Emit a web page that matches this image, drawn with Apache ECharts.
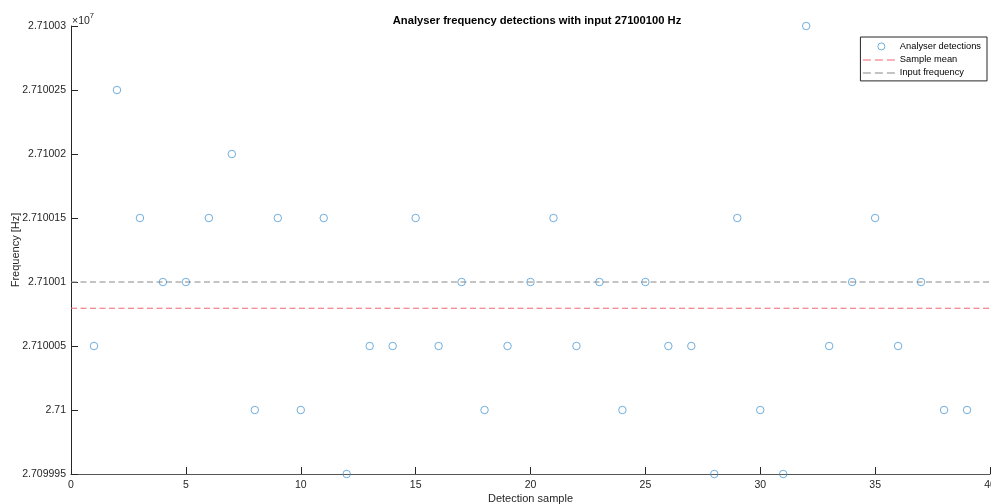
<!DOCTYPE html>
<html>
<head>
<meta charset="utf-8">
<script src="https://cdn.jsdelivr.net/npm/echarts@6/dist/echarts.min.js"></script>
<style>html,body{margin:0;padding:0;background:#fff}#c{width:991px;height:504px}</style>
</head>
<body>
<div id="c"></div>
<script>
const titleText = 'Analyser frequency detections with input 27100100 Hz';
const samples = [1,2,3,4,5,6,7,8,9,10,11,12,13,14,15,16,17,18,19,20,21,22,23,24,25,26,27,28,29,30,31,32,33,34,35,36,37,38,39];
const detections = [27100050,27100250,27100150,27100100,27100100,27100150,27100200,27100000,27100150,27100000,
  27100150,27099950,27100050,27100050,27100150,27100050,27100100,27100000,27100050,27100100,
  27100150,27100050,27100100,27100000,27100100,27100050,27100050,27099950,27100150,27100000,
  27099950,27100300,27100050,27100100,27100150,27100050,27100100,27100000,27100000];
const sampleMean = 27100079.5;
const inputFrequency = 27100100;
const xRange = [0, 40];
const yRange = [27099950, 27100300];
const seriesNames = ['Analyser detections', 'Sample mean', 'Input frequency'];

const font = '"Liberation Sans", Arial, Helvetica, sans-serif';
const blue = '#3b8fd0', red = '#ee6670', grey = '#888888';
const chart = echarts.init(document.getElementById('c'), null, {renderer: 'canvas'});
const pts = samples.map((s, i) => [s, detections[i]]);
function fmtY(v) {
  let s = (v / 1e7).toFixed(6);
  s = s.replace(/0+$/, '').replace(/\.$/, '');
  return s;
}
const boxPts = 'M0,0h0.01v0.01h-0.01z M31.99,10h0.01v-0.01h-0.01z';
const dashIcon = 'path://' + boxPts + ' M0,4.5h8v1h-8z M12,4.5h8v1h-8z M24,4.5h8v1h-8z';
const circIcon = 'path://' + boxPts + ' M22,5a3.5,3.5 0 1,0 -7,0a3.5,3.5 0 1,0 7,0z';
chart.setOption({
  animation: false,
  backgroundColor: '#fff',
  textStyle: {fontFamily: font},
  title: {
    text: titleText, left: 532, top: 10, textAlign: 'center',
    textStyle: {fontSize: 11.2, fontWeight: 'bold', color: '#000', fontFamily: font}
  },
  grid: {left: 71, right: 1, top: 26, bottom: 30, containLabel: false, outerBoundsMode: 'none'},
  legend: {
    orient: 'vertical', right: 4, top: 37,
    backgroundColor: '#fff', borderColor: '#262626', borderWidth: 1,
    padding: [4, 6, 3, 2], itemGap: 3, itemWidth: 32, itemHeight: 10,
    textStyle: {fontSize: 9.3, color: '#000', fontFamily: font},
    data: [
      {name: seriesNames[0], icon: circIcon, itemStyle: {color: 'rgba(0,0,0,0)', borderColor: blue, borderWidth: 0.9}},
      {name: seriesNames[1], icon: dashIcon, itemStyle: {color: red, borderWidth: 0}},
      {name: seriesNames[2], icon: dashIcon, itemStyle: {color: grey, borderWidth: 0}}
    ]
  },
  xAxis: {
    type: 'value', min: xRange[0], max: xRange[1], interval: 5,
    name: 'Detection sample', nameLocation: 'middle', nameGap: 19, nameMoveOverlap: false,
    nameTextStyle: {fontSize: 11, color: '#262626', fontFamily: font},
    axisLine: {show: true, lineStyle: {color: '#555', width: 1}},
    axisTick: {show: true, inside: true, length: 7, lineStyle: {color: '#262626'}},
    axisLabel: {fontSize: 10.5, color: '#262626', margin: 6, fontFamily: font},
    splitLine: {show: false}
  },
  yAxis: {
    type: 'value', min: yRange[0], max: yRange[1], interval: 50,
    name: 'Frequency [Hz]', nameLocation: 'middle', nameGap: 50, nameRotate: 90, nameMoveOverlap: false,
    nameTextStyle: {fontSize: 11, color: '#262626', fontFamily: font},
    axisLine: {show: true, lineStyle: {color: '#262626', width: 1}},
    axisTick: {show: true, inside: true, length: 7, lineStyle: {color: '#262626'}},
    axisLabel: {fontSize: 10.5, color: '#262626', margin: 5, formatter: fmtY, fontFamily: font},
    splitLine: {show: false}
  },
  graphic: [{
    type: 'text', left: 72, top: 12,
    style: {
      text: '{a|×10}{b|7}',
      rich: {
        a: {fontSize: 10.5, fill: '#262626', fontFamily: font, padding: [4, 0, 0, 0]},
        b: {fontSize: 7.5, fill: '#262626', fontFamily: font, verticalAlign: 'top', padding: [0, 0, 6, 0]}
      }
    }
  }],
  series: [
    {
      name: seriesNames[0], type: 'scatter', data: pts,
      symbol: 'circle', symbolSize: 7.5,
      itemStyle: {color: 'rgba(0,0,0,0)', borderColor: blue, borderWidth: 0.9},
      z: 5
    },
    {
      name: seriesNames[1], type: 'line', data: [[xRange[0], sampleMean], [xRange[1], sampleMean]],
      symbol: 'none', itemStyle: {color: red},
      lineStyle: {color: red, width: 1, type: [6, 3.5]}
    },
    {
      name: seriesNames[2], type: 'line', data: [[xRange[0], inputFrequency], [xRange[1], inputFrequency]],
      symbol: 'none', itemStyle: {color: grey},
      lineStyle: {color: grey, width: 1, type: [6, 3.5]}
    }
  ]
});
</script>
</body>
</html>
